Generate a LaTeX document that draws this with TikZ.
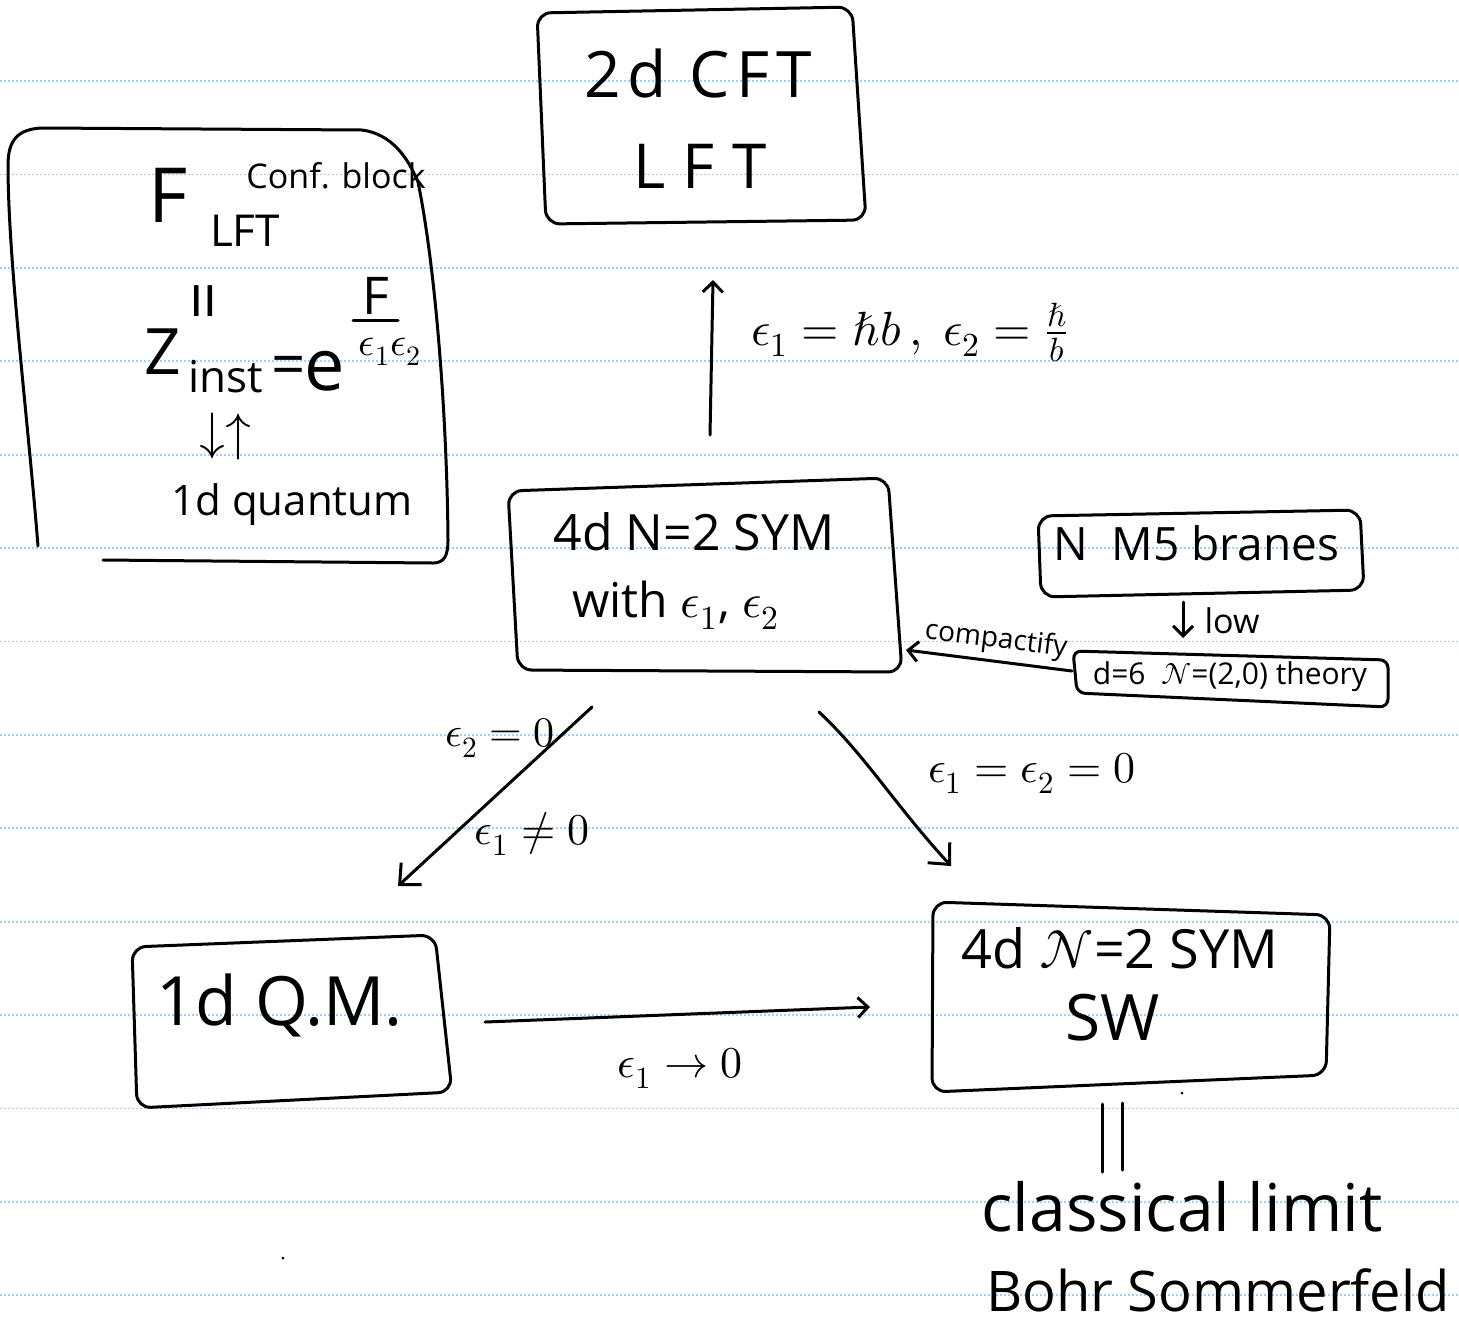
\documentclass[tikz,border=0pt]{standalone}
\usepackage{fontspec}
\usepackage{unicode-math}
\setmainfont{Open Sans}
\setmathfont{Latin Modern Math}
\usetikzlibrary{arrows.meta}
\newcommand\fs[1]{\fontsize{#1}{#1}\selectfont}
\newcommand\spaced[1]{\addfontfeature{LetterSpace=#1}}
\definecolor{ruleblue}{RGB}{165,205,245}
\tikzset{
  rule/.style={ruleblue, line width=0.9pt, dash pattern=on 1pt off 1pt},
  ink/.style={line width=1.5pt, line cap=round, line join=round, black},
  frame/.style={ink, rounded corners=7pt},
  txt/.style={inner sep=0pt, outer sep=0pt, black},
  barb/.style={ink, -{Straight Barb[length=5pt,width=10pt,line width=1.5pt]}},
  bigbarb/.style={ink, -{Straight Barb[length=8pt,width=15pt,line width=1.5pt]}},
}
\begin{document}
\begin{tikzpicture}[x=0.5pt, y=-0.5pt]
\useasboundingbox (0,0) rectangle (1459,1328);
\fill[white] (0,0) rectangle (1459,1328);

% ruled paper
\foreach \k in {0,...,13}
  \draw[rule] (0,{81+93.4*\k}) -- (1459,{81+93.4*\k});

% ---------- 2d CFT ----------
\draw[frame] (537,13) -- (852,7) -- (866,220) -- (546,224) -- cycle;
\node[txt, font=\fs{32}\spaced{10}] (cft) at (698,73) {2d CFT};
\node[txt, font=\fs{31}\spaced{28}] (lft) at (700,166) {LFT};

% ---------- left block ----------
\draw[ink] (38,546) .. controls (28,420) and (8,260) .. (8,165)
  .. controls (8,140) and (18,129) .. (42,128) -- (362,130)
  .. controls (392,134) and (408,158) .. (418,182)
  .. controls (436,270) and (447,420) .. (448,540)
  .. controls (448,556) and (444,563) .. (433,563) -- (103,560);
\node[txt, font=\fs{38}] (bigF) at (168,195) {F};
\node[txt, font=\fs{22}] (lftsub) at (245,231) {LFT};
\node[txt, font=\fs{17}] (conf) at (336,176) {Conf. block};
\node[txt, font=\fs{34}, rotate=90] (eqv) at (211,301) {=};
\node[txt, font=\fs{32}] (Z) at (163,352) {Z};
\node[txt, font=\fs{22}] (inst) at (226,377) {inst};
\node[txt, font=\fs{30}] (eqZ) at (289,371) {=};
\node[txt, font=\fs{36}] (e) at (325,371) {e};
\node[txt, font=\fs{26}] (num) at (376,296) {F};
\draw[ink] (353,320) -- (398,320);
\node[txt, font=\fs{20}] (den) at (390,352) {$\epsilon_1\epsilon_2$};
\node[txt, font=\fs{26}] (updown) at (225,436) {$\downarrow\uparrow$};
\node[txt, font=\fs{21}] (quantum) at (292,505) {1d quantum};

% ---------- 4d N=2 with epsilons ----------
\draw[frame] (508,491) -- (888,478) -- (902,672) -- (518,670) -- cycle;
\node[txt, font=\fs{25}] (sym) at (694,532) {4d N=2 SYM};
\node[txt, font=\fs{24}] (with) at (676,605) {with $\epsilon_1$, $\epsilon_2$};

% ---------- M5 branes ----------
\draw[frame] (1038,516) -- (1360,510) -- (1364,590) -- (1041,597) -- cycle;
\node[txt, font=\fs{23}] (m5) at (1196,543) {N\ \ M5 branes};
\coordinate (lowS) at (1183,602);
\coordinate (lowE) at (1183,638);
\draw[barb] (lowS) -- (lowE);
\node[txt, font=\fs{17}] (low) at (1232,621) {low};

% ---------- 6d theory ----------
\draw[frame, rounded corners=4pt] (1073,651) -- (1388,660) -- (1388,707) -- (1077,693) -- cycle;
\node[txt, font=\fs{15}] (six) at (1230,677) {d=6\ \ $\mathcal{N}$=(2,0) theory};
\coordinate (kS) at (1072,671);
\coordinate (kE) at (906,650);
\draw[barb] (kS) -- (kE);
\node[txt, font=\fs{14}, rotate=-7] (compact) at (996,640) {compactify};

% ---------- arrow up to the CFT ----------
\coordinate (upS) at (710,435);
\coordinate (upE) at (713,280);
\draw[barb] (upS) -- (upE);
\node[txt, font=\fs{24}, anchor=base] (agt) at (910,345) {$\epsilon_1=\hbar b\,,\ \epsilon_2=\frac{\hbar}{b}$};

% ---------- arrows down ----------
\coordinate (dS) at (592,707);
\coordinate (dE) at (398,886);
\draw[bigbarb] (dS) -- (dE);
\node[txt, font=\fs{21}] (e2z) at (500,738) {$\epsilon_2=0$};
\node[txt, font=\fs{22}] (e1n) at (532,834) {$\epsilon_1\neq0$};

\coordinate (cS) at (819,712);
\coordinate (cE) at (951,866);
\draw[bigbarb] (cS) .. controls (865,755) and (895,805) .. (cE);
\node[txt, font=\fs{22}] (both) at (1032,773) {$\epsilon_1=\epsilon_2=0$};

% ---------- 1d Q.M. ----------
\draw[frame] (132,947) -- (435,935) -- (452,1092) -- (137,1108) -- cycle;
\node[txt, font=\fs{34}] (qm) at (280,1005) {1d Q.M.};

% ---------- Seiberg-Witten ----------
\draw[frame] (933,902) -- (1330,915) -- (1326,1075) -- (932,1092) -- cycle;
\node[txt, font=\fs{27}] (sym0) at (1120,948) {4d $\mathcal{N}$=2 SYM};
\node[txt, font=\fs{32}] (sw) at (1113,1018) {SW};

\coordinate (bS) at (485,1022);
\coordinate (bE) at (870,1007);
\draw[barb] (bS) -- (bE);
\node[txt, font=\fs{22}] (e1lim) at (680,1068) {$\epsilon_1\to0$};

% ---------- classical limit ----------
\coordinate (p1) at (1102,1104);
\coordinate (p2) at (1102,1172);
\coordinate (q1) at (1122,1103);
\coordinate (q2) at (1122,1170);
\draw[ink] (p1) -- (p2);
\draw[ink] (q1) -- (q2);
\node[txt, font=\fs{33}] (classical) at (1182,1207) {classical limit};
\node[txt, font=\fs{28}] (bohr) at (1218,1290) {Bohr Sommerfeld};

% stray pen dots
\fill (283,1258) circle (1.5);
\fill (1182,1093) circle (1.5);
\end{tikzpicture}
\end{document}
